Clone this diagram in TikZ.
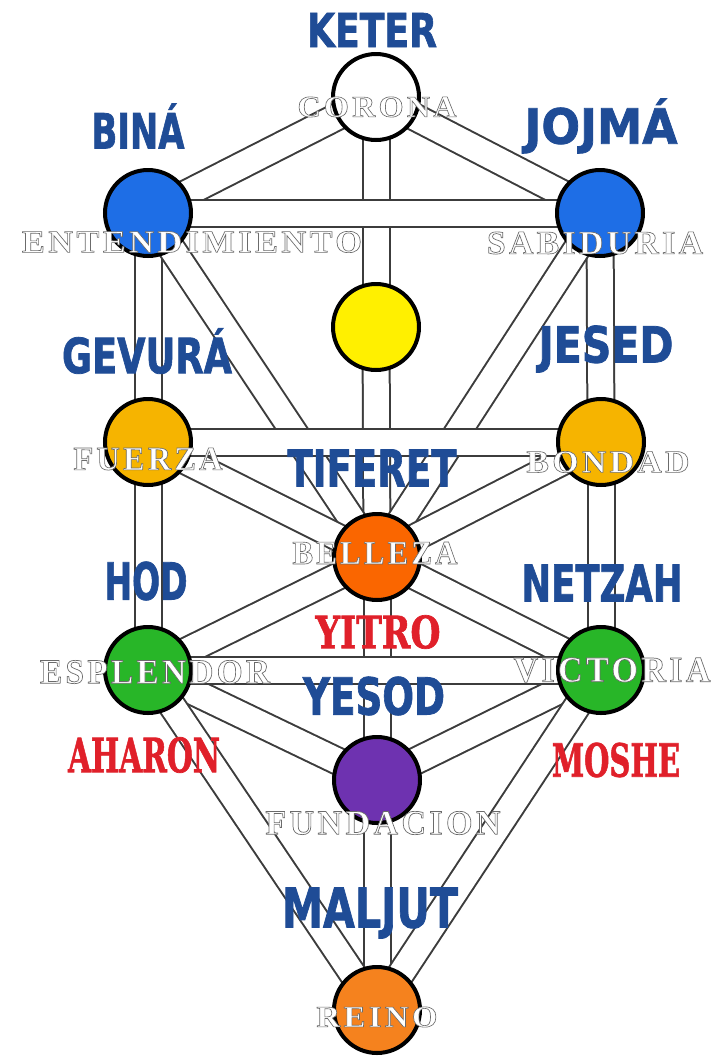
\documentclass[tikz,border=0pt]{standalone}
\usepackage{fontspec}
\usepackage{graphicx}
\usetikzlibrary{backgrounds}
\newfontfamily\bluefont[FakeBold=1.6]{DejaVu Sans}
\newfontfamily\redfont[FakeBold=1.6]{DejaVu Serif}
\newfontfamily\whitefont[LetterSpace=10,FakeBold=2]{Liberation Serif}
\definecolor{txtblue}{RGB}{31,76,150}
\definecolor{txtred}{RGB}{224,32,42}
\definecolor{sefblue}{RGB}{30,110,230}
\definecolor{sefyellow}{RGB}{255,240,0}
\definecolor{sefgold}{RGB}{246,180,0}
\definecolor{sefor}{RGB}{250,102,0}
\definecolor{sefgreen}{RGB}{40,182,40}
\definecolor{sefpurple}{RGB}{110,50,176}
\definecolor{sefmal}{RGB}{245,130,30}
\definecolor{pathgray}{RGB}{60,60,60}
\tikzset{
  sef/.style={circle, draw=black, line width=4pt, minimum size=86pt, inner sep=0pt},
  band/.style={draw=pathgray, line width=2pt, double=white, double distance=25pt},
  lab/.style={inner sep=0pt, outer sep=0pt, anchor=center},
}
% #1 name, #2 center, #3 width, #4 height, #5 text
\newcommand\bluelabel[5]{%
  \node[lab, text=txtblue] (#1) at (#2) {\resizebox{#3pt}{#4pt}{\bluefont\bfseries #5}};}
\newcommand\redlabel[5]{%
  \node[lab, text=txtred] (#1) at (#2) {\resizebox{#3pt}{#4pt}{\redfont\bfseries #5}};}
\newcommand\whitelabel[5]{%
  \node[lab, text=white] (#1) at (#2) {\resizebox{#3pt}{#4pt}{\whitefont\bfseries\special{pdf:code 0.42 G}#5}};}
\begin{document}
\begin{tikzpicture}[x=1pt, y=-1pt]
\useasboundingbox (0,0) rectangle (717,1058);
% sefirot
\node[sef, fill=white]      (keter)   at (376,97)   {};
\node[sef, fill=sefblue]    (bina)    at (148,213)  {};
\node[sef, fill=sefblue]    (jojma)   at (600,213)  {};
\node[sef, fill=sefyellow]  (daat)    at (376,327)  {};
\node[sef, fill=sefgold]    (gevura)  at (148,442)  {};
\node[sef, fill=sefgold]    (jesed)   at (601,442)  {};
\node[sef, fill=sefor]      (tiferet) at (377,557)  {};
\node[sef, fill=sefgreen]   (hod)     at (148,670)  {};
\node[sef, fill=sefgreen]   (netzah)  at (601,670)  {};
\node[sef, fill=sefpurple]  (yesod)   at (377,780)  {};
\node[sef, fill=sefmal]     (malkut)  at (377,1010) {};
% paths
\begin{pgfonlayer}{background}
  \fill[white] (0,0) rectangle (717,1058);
  \draw[band] (keter.center) -- (daat.center);
  \draw[band] (daat.center) -- (tiferet.center);
  \draw[band] (tiferet.center) -- (yesod.center);
  \draw[band] (yesod.center) -- (malkut.center);
  \draw[band] (bina.center) -- (gevura.center);
  \draw[band] (gevura.center) -- (hod.center);
  \draw[band] (jojma.center) -- (jesed.center);
  \draw[band] (jesed.center) -- (netzah.center);
  \draw[band] (keter.center) -- (bina.center);
  \draw[band] (keter.center) -- (jojma.center);
  \draw[band] (bina.center) -- (tiferet.center);
  \draw[band] (jojma.center) -- (tiferet.center);
  \draw[band] (gevura.center) -- (tiferet.center);
  \draw[band] (jesed.center) -- (tiferet.center);
  \draw[band] (tiferet.center) -- (hod.center);
  \draw[band] (tiferet.center) -- (netzah.center);
  \draw[band] (hod.center) -- (yesod.center);
  \draw[band] (netzah.center) -- (yesod.center);
  \draw[band] (hod.center) -- (malkut.center);
  \draw[band] (netzah.center) -- (malkut.center);
  \draw[band] (bina.center) -- (jojma.center);
  \draw[band] (gevura.center) -- (jesed.center);
  \draw[band] (hod.center) -- (netzah.center);
\end{pgfonlayer}
% blue names
\bluelabel{lketer}{372,30}{130}{34}{KETER}
\bluelabel{lbina}{138,126}{93}{45}{BINÁ}
\bluelabel{ljojma}{601,126}{153}{45}{JOJMÁ}
\bluelabel{lgevura}{147,351}{170}{45}{GEVURÁ}
\bluelabel{ljesed}{606,349}{135}{37}{JESED}
\bluelabel{ltiferet}{372,468}{169}{37}{TIFERET}
\bluelabel{lhod}{146,581}{83}{38}{HOD}
\bluelabel{lnetzah}{602,583}{161}{37}{NETZAH}
\bluelabel{lyesod}{374,696}{142}{38}{YESOD}
\bluelabel{lmaljut}{370,913}{176}{40}{MALJUT}
% red names
\redlabel{lyitro}{378,632}{125}{33}{YITRO}
\redlabel{laharon}{144,755}{152}{35}{AHARON}
\redlabel{lmoshe}{616,760}{128}{34}{MOSHE}
% white translations
\whitelabel{wcorona}{377,107}{159}{20}{CORONA}
\whitelabel{wentend}{192,242}{340}{21}{ENTENDIMIENTO}
\whitelabel{wsabid}{595,243}{216}{22}{SABIDURIA}
\whitelabel{wfuerza}{148,459}{149}{22}{FUERZA}
\whitelabel{wbondad}{608,462}{163}{21}{BONDAD}
\whitelabel{wbelleza}{375,553}{165}{22}{BELLEZA}
\whitelabel{wesplen}{155,672}{230}{23}{ESPLENDOR}
\whitelabel{wvictoria}{612,670}{197}{24}{VICTORIA}
\whitelabel{wfundac}{383,823}{235}{23}{FUNDACION}
\whitelabel{wreino}{377,1017}{121}{20}{REINO}
\end{tikzpicture}
\end{document}
